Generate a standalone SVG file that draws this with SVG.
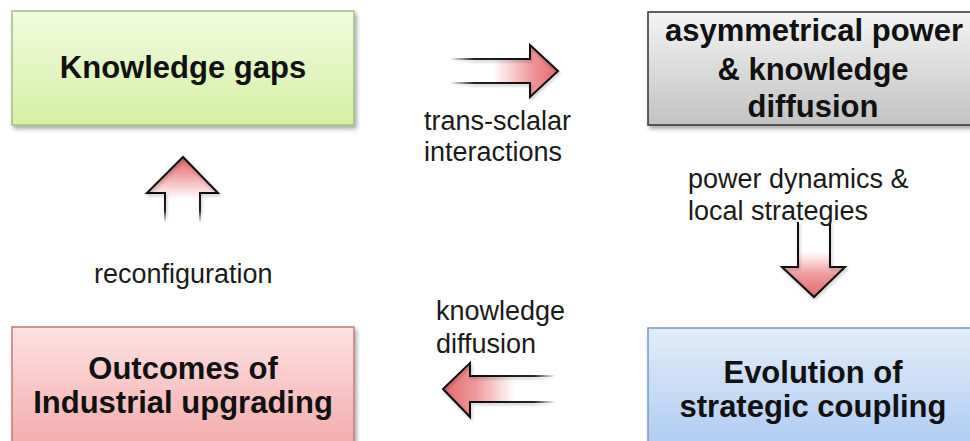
<svg xmlns="http://www.w3.org/2000/svg" width="970" height="441" viewBox="0 0 970 441">
  <defs>
    <style>
      .box { stroke-width: 1.5; }
      .title { font-family: "Liberation Sans", Arial, sans-serif; font-weight: bold; font-size: 31px; fill: #111; text-anchor: middle; }
      .label { font-family: "Liberation Sans", Arial, sans-serif; font-size: 27px; fill: #1a1a1a; }
      .outline { fill: none; stroke: #111; stroke-width: 2; stroke-linejoin: miter; }
    </style>
    <filter id="shadow" x="-10%" y="-10%" width="130%" height="140%">
      <feDropShadow dx="2" dy="3" stdDeviation="2" flood-color="#000" flood-opacity="0.35"/>
    </filter>
    <filter id="soft" x="-30%" y="-30%" width="160%" height="160%">
      <feDropShadow dx="1" dy="2" stdDeviation="1.5" flood-color="#000" flood-opacity="0.25"/>
    </filter>
    <linearGradient id="gGreen" x1="0" y1="0" x2="0" y2="1">
      <stop offset="0" stop-color="#f2fbe0"/>
      <stop offset="1" stop-color="#d4f0a4"/>
    </linearGradient>
    <linearGradient id="gGray" x1="0" y1="0" x2="0" y2="1">
      <stop offset="0" stop-color="#f4f4f4"/>
      <stop offset="1" stop-color="#c2c2c2"/>
    </linearGradient>
    <linearGradient id="gPink" x1="0" y1="0" x2="0" y2="1">
      <stop offset="0" stop-color="#fce2e2"/>
      <stop offset="1" stop-color="#f3a6a6"/>
    </linearGradient>
    <linearGradient id="gBlue" x1="0" y1="0" x2="0" y2="1">
      <stop offset="0" stop-color="#e2edfa"/>
      <stop offset="1" stop-color="#aac8f0"/>
    </linearGradient>
    <!-- arrow fills: white tail to red head -->
    <linearGradient id="fRight" gradientUnits="userSpaceOnUse" x1="450" y1="0" x2="558" y2="0">
      <stop offset="0" stop-color="#fff"/>
      <stop offset="0.4" stop-color="#fff"/>
      <stop offset="0.75" stop-color="#f09a9c"/>
      <stop offset="1" stop-color="#e4696c"/>
    </linearGradient>
    <linearGradient id="sRight" gradientUnits="userSpaceOnUse" x1="450" y1="0" x2="530" y2="0">
      <stop offset="0" stop-color="#111" stop-opacity="0"/>
      <stop offset="0.3" stop-color="#111" stop-opacity="0.9"/>
      <stop offset="1" stop-color="#111"/>
    </linearGradient>
    <linearGradient id="fLeft" gradientUnits="userSpaceOnUse" x1="553" y1="0" x2="443" y2="0">
      <stop offset="0" stop-color="#fff"/>
      <stop offset="0.35" stop-color="#fff"/>
      <stop offset="0.7" stop-color="#f09a9c"/>
      <stop offset="1" stop-color="#e4696c"/>
    </linearGradient>
    <linearGradient id="sLeft" gradientUnits="userSpaceOnUse" x1="555" y1="0" x2="470" y2="0">
      <stop offset="0" stop-color="#111" stop-opacity="0"/>
      <stop offset="0.25" stop-color="#111" stop-opacity="0.9"/>
      <stop offset="1" stop-color="#111"/>
    </linearGradient>
    <linearGradient id="fDown" gradientUnits="userSpaceOnUse" x1="0" y1="222" x2="0" y2="297">
      <stop offset="0" stop-color="#fff"/>
      <stop offset="0.4" stop-color="#fff"/>
      <stop offset="0.7" stop-color="#f09a9c"/>
      <stop offset="1" stop-color="#e4696c"/>
    </linearGradient>
    <linearGradient id="fUp" gradientUnits="userSpaceOnUse" x1="0" y1="222" x2="0" y2="157">
      <stop offset="0" stop-color="#fff"/>
      <stop offset="0.35" stop-color="#fff"/>
      <stop offset="0.75" stop-color="#f09a9c"/>
      <stop offset="1" stop-color="#e4696c"/>
    </linearGradient>
    <linearGradient id="sUp" gradientUnits="userSpaceOnUse" x1="0" y1="222" x2="0" y2="193">
      <stop offset="0" stop-color="#111" stop-opacity="0"/>
      <stop offset="0.4" stop-color="#111" stop-opacity="0.9"/>
      <stop offset="1" stop-color="#111"/>
    </linearGradient>
  </defs>

  <rect width="970" height="441" fill="#fff"/>

  <!-- nodes -->
  <g id="knowledge-gaps">
    <rect class="box" x="12" y="11" width="342" height="114" fill="url(#gGreen)" stroke="#a3bf82" filter="url(#shadow)"/>
    <text class="title" x="183" y="78" font-size="32">Knowledge  gaps</text>
  </g>

  <g id="asymmetrical-power">
    <rect class="box" x="648" y="12" width="340" height="113" fill="url(#gGray)" stroke="#333" filter="url(#shadow)"/>
    <text class="title" x="814" y="41">asymmetrical power</text>
    <text class="title" x="813" y="80">&amp; knowledge</text>
    <text class="title" x="813" y="117">diffusion</text>
  </g>

  <g id="outcomes">
    <rect class="box" x="12" y="327" width="342" height="130" fill="url(#gPink)" stroke="#c67a7a" filter="url(#shadow)"/>
    <text class="title" x="183" y="379">Outcomes  of</text>
    <text class="title" x="183" y="413">Industrial  upgrading</text>
  </g>

  <g id="evolution">
    <rect class="box" x="648" y="328" width="340" height="130" fill="url(#gBlue)" stroke="#7896c4" filter="url(#shadow)"/>
    <text class="title" x="813" y="383">Evolution  of</text>
    <text class="title" x="813" y="417">strategic  coupling</text>
  </g>

  <!-- connectors -->
  <g id="connectors">
    <!-- trans-scalar interactions: rightwards -->
    <g id="arrow-right">
      <polygon points="450,59 530,59 530,45 558,71 530,97 530,83 450,83" fill="url(#fRight)"/>
      <g filter="url(#soft)">
        <polyline class="outline" points="530,59 530,45 558,71 530,97 530,83"/>
        <line x1="450" y1="59" x2="531" y2="59" stroke="url(#sRight)" stroke-width="2"/>
        <line x1="450" y1="83" x2="531" y2="83" stroke="url(#sRight)" stroke-width="2"/>
      </g>
    </g>
    <text class="label" x="424" y="130">trans-sclalar</text>
    <text class="label" x="424" y="161">interactions</text>

    <!-- power dynamics: downwards -->
    <g id="arrow-down">
      <polygon points="798,222 830,222 830,267 845,267 814,297 782,267 798,267" fill="url(#fDown)"/>
      <polyline class="outline" filter="url(#soft)" points="798,222 798,267 782,267 814,297 845,267 830,267 830,222"/>
    </g>
    <text class="label" x="688" y="188">power dynamics &amp;</text>
    <text class="label" x="688" y="220">local strategies</text>

    <!-- knowledge diffusion: leftwards -->
    <g id="arrow-left">
      <polygon points="553,376 470,376 470,363 443,389 470,417 470,402 553,402" fill="url(#fLeft)"/>
      <g filter="url(#soft)">
        <polyline class="outline" points="470,376 470,363 443,389 470,417 470,402"/>
        <line x1="469" y1="376" x2="555" y2="376" stroke="url(#sLeft)" stroke-width="2"/>
        <line x1="469" y1="402" x2="555" y2="402" stroke="url(#sLeft)" stroke-width="2"/>
      </g>
    </g>
    <text class="label" x="436" y="320">knowledge</text>
    <text class="label" x="436" y="353">diffusion</text>

    <!-- reconfiguration: upwards -->
    <g id="arrow-up">
      <polygon points="165,222 165,193 147,193 183,157 218,193 200,193 200,222" fill="url(#fUp)"/>
      <g filter="url(#soft)">
        <polyline class="outline" points="165,193 147,193 183,157 218,193 200,193"/>
        <line x1="165" y1="192" x2="165" y2="222" stroke="url(#sUp)" stroke-width="2"/>
        <line x1="200" y1="192" x2="200" y2="222" stroke="url(#sUp)" stroke-width="2"/>
      </g>
    </g>
    <text class="label" x="94" y="283">reconfiguration</text>
  </g>
</svg>
